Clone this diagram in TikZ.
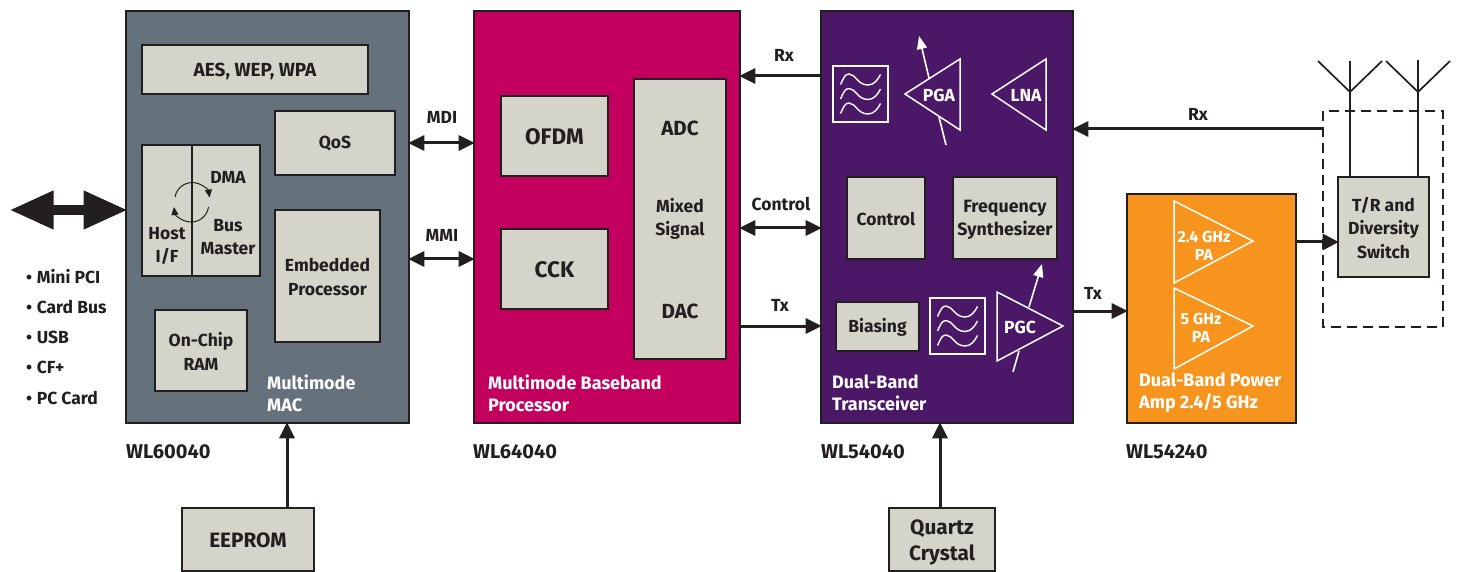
\documentclass[tikz,border=0pt]{standalone}
\usepackage{fontspec}
\setmainfont{Fira Sans}
\usetikzlibrary{arrows.meta,calc}
\definecolor{ink}{HTML}{231F20}
\definecolor{boxgray}{HTML}{D4D4CB}
\definecolor{macgray}{HTML}{66727B}
\definecolor{bbred}{HTML}{C4005F}
\definecolor{trxpurple}{HTML}{4A1867}
\definecolor{paorange}{HTML}{F7941E}
\def\tdrop{1pt}
\newcommand{\pxbox}[7][]{%
  \pgfmathsetmacro{\cxx}{(#3+#5)/2}\pgfmathsetmacro{\cyy}{(#4+#6)/2}%
  \pgfmathsetmacro{\wdd}{#5-#3}\pgfmathsetmacro{\htt}{#6-#4}%
  \node[#1,minimum width=\wdd pt,minimum height=\htt pt] (#2) at (\cxx,\cyy) {};
  \node[#1,draw=none,fill=none,yshift=-\tdrop] (#2-t) at (#2.center) {#7};}
\newcommand{\wavefilter}[3]{%
  \node[filt] (#1) at (#2,#3) {};
  \begin{scope}[shift={(#1.center)}]
  \foreach \dy in {-14.5,0,14.5}{
    \draw[wave] (-20,\dy+5) .. controls (-17,\dy-1.5) and (-15.5,\dy-5.5) .. (-11.5,\dy-5.5)
      .. controls (-5,\dy-5.5) and (-3,\dy+5.5) .. (7.5,\dy+5.5)
      .. controls (13,\dy+5.5) and (17,\dy+1) .. (20,\dy-5);
  }
  \end{scope}}
\tikzset{
  x=1pt,y=-1pt,
  every node/.style={font=\fontsize{17.5}{23.5}\selectfont\bfseries,text=ink,inner sep=0pt,align=center},
  block/.style={draw=ink,line width=1.6pt,fill=#1,rectangle},
  inbox/.style={draw=ink,line width=1.6pt,fill=boxgray,rectangle},
  ext/.style={draw=ink,line width=1.6pt,fill=boxgray,rectangle,font=\fontsize{20.8}{26}\selectfont\bfseries},
  blocklabel/.style={text=white,align=left,anchor=west,font=\fontsize{18}{22}\selectfont\bfseries},
  partno/.style={anchor=west,font=\fontsize{20}{24}\selectfont\bfseries},
  sig/.style={font=\fontsize{17.5}{21}\selectfont\bfseries},
  conn/.style={draw=ink,line width=3pt,shorten >=-1.5pt,shorten <=-0.5pt},
  arr/.style={conn,-{Triangle[length=16pt,width=15pt]}},
  dbl/.style={conn,shorten <=-1.5pt,{Triangle[length=16pt,width=15pt]}-{Triangle[length=16pt,width=15pt]}},
  thin line/.style={draw=ink,line width=1.7pt},
  tri/.style={draw=white,line width=1.5pt,line join=miter},
  wtext/.style={text=white},
  filt/.style={draw=white,line width=1.6pt,minimum width=55pt,minimum height=56pt,rectangle},
  wave/.style={draw=white,line width=1.4pt},
  wline/.style={draw=white,line width=1.6pt},
  warr/.style={wline,-{Triangle[length=13pt,width=10pt]}},
}
\begin{document}
\begin{tikzpicture}
\useasboundingbox (0,0) rectangle (1457,572);
% main blocks
\pxbox[block=macgray]{mac}{126}{11}{409}{423}{}
\pxbox[block=bbred]{bb}{474}{11}{740}{423}{}
\pxbox[block=trxpurple]{trx}{821}{11}{1073}{423}{}
\pxbox[block=paorange]{pa}{1127}{194}{1296}{423}{}
% MAC contents
{\def\tdrop{2pt}\pxbox[inbox,font=\fontsize{19}{24}\selectfont\bfseries]{aes}{142}{45}{368}{94}{AES, WEP, WPA}}
\pxbox[inbox]{qos}{275}{111}{395}{175}{QoS}
\pxbox[inbox]{hostif}{142}{145}{260}{276}{}
\draw[thin line,line width=1.2pt] (192,145) -- (192,276);
\node (hosttxt) at (167,246) {Host\\I/F};
\node (dmatxt) at (228,177) {DMA};
\node (bustxt) at (228,237) {Bus\\Master};
\draw[draw=ink,line width=1pt,-{Triangle[length=8pt,width=7pt]}] (175,197) arc[start angle=-170,end angle=-8,radius=17.5];
\draw[draw=ink,line width=1pt,-{Triangle[length=8pt,width=7pt]}] (208.5,207) arc[start angle=8,end angle=172,radius=17.5];
\pxbox[inbox]{emb}{275}{210}{380}{342}{Embedded\\Processor}
\pxbox[inbox]{ram}{155}{310}{247}{391}{On-Chip\\RAM}
\node[blocklabel] (maclbl) at (267,393) {Multimode\\MAC};
% Baseband contents
\pxbox[inbox,font=\fontsize{22.5}{27}\selectfont\bfseries]{ofdm}{501}{96}{608}{176}{OFDM}
\pxbox[inbox,font=\fontsize{22.5}{27}\selectfont\bfseries]{cck}{501}{229}{608}{309}{CCK}
\pxbox[inbox]{mixed}{634}{79}{726}{359}{}
\node[font=\fontsize{20.5}{25}\selectfont\bfseries] (adc) at (680,128) {ADC};
\node (mixtxt) at (680,219) {Mixed\\Signal};
\node[font=\fontsize{20.5}{25}\selectfont\bfseries] (dac) at (680,311) {DAC};
\node[blocklabel] (bblbl) at (488,393) {Multimode Baseband\\Processor};
% Transceiver contents
\wavefilter{filtA}{860.5}{94}
\draw[tri] (905,94) -- (960,59) -- (960,130) -- cycle;
\node[wtext] (pga) at (939,95) {PGA};
\draw[tri] (992,94) -- (1046,59) -- (1046,130) -- cycle;
\node[wtext] (lna) at (1026,95) {LNA};
\draw[warr] (929,78) -- (919,36);
\draw[wline] (939,117) -- (946,145);
\pxbox[inbox]{ctrl}{847}{177}{925}{259}{Control}
{\def\tdrop{2pt}\pxbox[inbox,font=\fontsize{17.8}{23.5}\selectfont\bfseries]{freq}{953}{177}{1057}{259}{Frequency\\Synthesizer}}
\pxbox[inbox]{bias}{836}{302}{919}{351}{Biasing}
\wavefilter{filtB}{957.5}{326}
\draw[tri] (997,292) -- (1063,326) -- (997,361) -- cycle;
\node[wtext] (pgc) at (1020,327) {PGC};
\draw[warr] (1029,307) -- (1042,264);
\draw[wline] (1019,351) -- (1013,372);
\node[blocklabel] (trxlbl) at (832,393) {Dual-Band\\Transceiver};
% PA contents
\draw[tri] (1174,201) -- (1253,241) -- (1174,283) -- cycle;
\draw[tri] (1174,288) -- (1253,326) -- (1174,369) -- cycle;
\node[wtext,font=\fontsize{16}{18}\selectfont\bfseries] (pa24) at (1204,246) {2.4 GHz\\PA};
\node[wtext,font=\fontsize{16}{18}\selectfont\bfseries] (pa5) at (1201,328) {5 GHz\\PA};
\node[blocklabel] (palbl) at (1139,393) {Dual-Band Power\\Amp 2.4/5 GHz};
% Switch + antennas
\draw[draw=ink,line width=1.4pt,dash pattern=on 10pt off 6pt] (1323,111) rectangle (1443,327);
\pxbox[inbox]{sw}{1338}{177}{1429}{277}{T/R and\\Diversity\\Switch}
\coordinate (antA) at (1350,92);
\coordinate (antB) at (1418,92);
\draw[thin line] (sw.north -| antA) -- (antA) -- (1350,61);
\draw[thin line] (sw.north -| antB) -- (antB) -- (1418,60);
\draw[thin line] (1318,61) -- (antA) -- (1382,61);
\draw[thin line] (1386,61) -- (antB) -- (1450,61);
% External
\pxbox[ext]{eeprom}{182}{508}{314}{571}{EEPROM}
{\def\tdrop{2.5pt}\pxbox[ext]{quartz}{889}{508}{995}{571}{Quartz\\Crystal}}
% Connectors
\draw[arr] (eeprom.north -| 287,0) -- (mac.south -| 287,0);
\draw[arr] (quartz.north -| 940,0) -- (trx.south -| 940,0);
\draw[dbl] (mac.east |- 0,143) -- (bb.west |- 0,143);
\draw[dbl] (mac.east |- 0,259) -- (bb.west |- 0,259);
\draw[arr] (trx.west |- 0,76) -- (bb.east |- 0,76);
\draw[dbl] (bb.east |- 0,228) -- (trx.west |- 0,228);
\draw[arr] (bb.east |- 0,326) -- (trx.west |- 0,326);
\draw[arr] (1323,129) coordinate (rxin) -- (trx.east |- rxin);
\draw[arr] (trx.east |- 0,311) -- (pa.west |- 0,311);
\draw[arr,-{Triangle[length=16pt,width=16pt]}] (pa.east |- 0,242) -- (sw.west |- 0,242);
% Host bus arrow
\coordinate (busL) at (12,210);
\draw[draw=ink,line width=10pt,shorten >=-2.5pt,shorten <=-2.5pt,{Triangle[length=44pt,width=36pt]}-{Triangle[length=44pt,width=36pt]}] (busL) -- (mac.west |- busL);
% Labels
\node[sig] (lmdi) at (442,117) {MDI};
\node[sig] (lmmi) at (442,235) {MMI};
\node[sig] (lrx1) at (784,55) {Rx};
\node[sig] (lctl) at (781,204) {Control};
\node[sig] (ltx1) at (780,305) {Tx};
\node[sig] (lrx2) at (1198,114) {Rx};
\node[sig] (ltx2) at (1093,293) {Tx};
\node[partno] (p1) at (126,452) {WL60040};
\node[partno] (p2) at (473,452) {WL64040};
\node[partno] (p3) at (821,452) {WL54040};
\node[partno] (p4) at (1126,452) {WL54240};
\foreach \yy/\tt/\nm in {277/Mini PCI/a,307/Card Bus/b,337/USB/c,367/CF+/d,398/PC Card/e}{
  \node[anchor=west,font=\fontsize{17.5}{20}\selectfont\bfseries] (iface\nm) at (26,\yy) {•\hspace{4.5pt}\tt};
}
\end{tikzpicture}
\end{document}
